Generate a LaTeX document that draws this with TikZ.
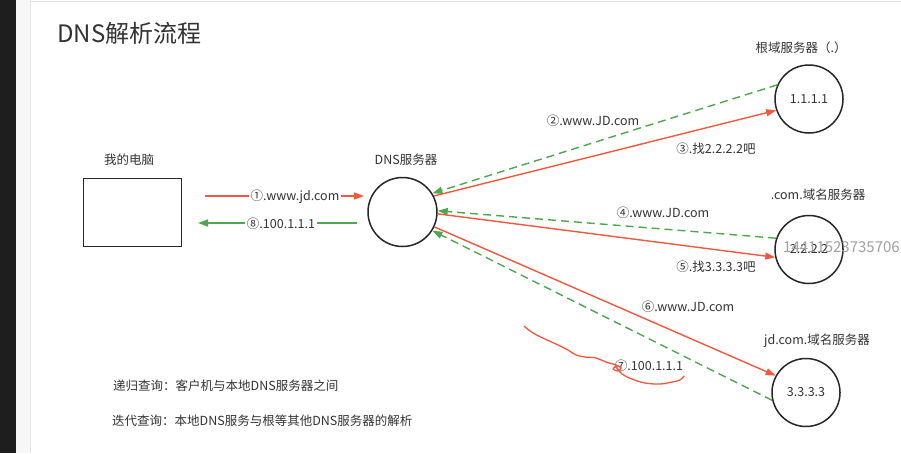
\documentclass[tikz,border=0pt]{standalone}
\usepackage{fontspec}
\setmainfont{Noto Sans CJK SC}
\usetikzlibrary{arrows.meta}
\definecolor{myred}{HTML}{F2583E}
\definecolor{mygreen}{HTML}{4DA84D}
\definecolor{txt}{HTML}{333333}
\definecolor{darkstrip}{HTML}{1E1E1E}
\definecolor{lightstrip}{HTML}{F7F7F7}
\definecolor{wmgray}{HTML}{A0A0A0}
\begin{document}
\begin{tikzpicture}[x=1pt,y=-1pt,
  srv/.style={circle, draw=black!85, line width=1.5pt, minimum size=68pt, inner sep=0pt, text=txt, font=\fontsize{12.5}{14}\selectfont},
  lbl/.style={text=txt, font=\fontsize{12.5}{14}\selectfont, inner sep=1pt},
  req/.style={myred, line width=1.4pt, -{Triangle[length=10pt,width=7pt]}},
  rsp/.style={mygreen, line width=1.4pt, -{Triangle[length=10pt,width=7pt]}},
  dsh/.style={dash pattern=on 8pt off 5pt},
  ]
% background / frame
\useasboundingbox (0,0) rectangle (901,453);
\fill[white] (0,0) rectangle (901,453);
\fill[darkstrip] (0,0) rectangle (16,453);
\fill[lightstrip] (16,0) rectangle (30,453);
\draw[black!10, line width=0.8pt] (30,0) -- (30,453);
\draw[black!12, line width=0.8pt] (30,1.5) -- (901,1.5);

% title
\node[anchor=west, text=txt, font=\fontsize{24}{28}\selectfont, inner sep=0pt] (title) at (57,33) {DNS解析流程};

% computer
\node[lbl] (pclbl) at (129,160) {我的电脑};
\node[draw=black!85, line width=1.5pt, minimum width=98pt, minimum height=68pt, inner sep=0pt] (pc) at (132.5,212.5) {};

% DNS server
\node[lbl] (dnslbl) at (406,160) {DNS服务器};
\node[srv, minimum size=69pt] (dns) at (402.5,212) {};

% servers
\node[lbl] (rootlbl) at (801,48) {根域服务器（.）};
\node[srv] (root) at (809,99) {1.1.1.1};
\node[lbl] (comlbl) at (818,195) {.com.域名服务器};
\node[srv] (com) at (809,249.5) {2.2.2.2};
\node[lbl] (jdlbl) at (817,341) {jd.com.域名服务器};
\node[srv] (jd) at (806,392.5) {3.3.3.3};

% watermark
\begin{scope}
\clip (0,0) rectangle (901,453);
\node[anchor=west, text=wmgray, font=\fontsize{15}{17}\selectfont, inner sep=0pt] (wm) at (783,247) {1441152373570613};
\end{scope}

% pc <-> dns
\coordinate (q1s) at (205,196);
\coordinate (q1e) at (364,196);
\coordinate (q8s) at (357,223);
\coordinate (q8e) at (198,223);
\draw[req] (q1s) -- (q1e);
\draw[rsp] (q8s) -- (q8e);
\node[lbl, fill=white, inner sep=2pt] (l1) at (295,197) {①.www.jd.com};
\node[lbl, fill=white, inner sep=2pt] (l8) at (281,224) {⑧.100.1.1.1};

% dns <-> root
\draw[rsp, dsh] (root.156) -- (dns.32);
\draw[req] (dns.27) -- (root.199);
\node[lbl] (l2) at (593,121) {②.www.JD.com};
\node[lbl] (l3) at (716,149) {③.找2.2.2.2吧};

% dns <-> com
\draw[rsp, dsh] (com.161) -- (dns.2);
\draw[req] (dns.-3) -- (com.193);
\node[lbl] (l4) at (663,213) {④.www.JD.com};
\node[lbl] (l5) at (716,267) {⑤.找3.3.3.3吧};

% dns <-> jd
\draw[req] (dns.-25) -- (jd.151);
\draw[rsp, dsh] (jd.193) -- (dns.-32);
\node[lbl] (l6) at (688,307) {⑥.www.JD.com};
\node[lbl] (l7) at (649,366) {⑦.100.1.1.1};

% hand-drawn annotation
\draw[myred, line width=1.3pt, line cap=round, line join=round]
  plot[smooth, tension=0.6] coordinates {(524,326) (533,333) (545,339) (558,345) (568,350) (576,355) (585,357) (596,358) (606,362) (616,365) (621,368) (618,371) (613,369) (616,366)}
  plot[smooth, tension=0.6] coordinates {(616,366) (622,374) (632,379) (645,383) (660,384) (672,382) (680,380) (684,376)};

% notes
\node[lbl, anchor=west] (n1) at (112,386) {递归查询：客户机与本地DNS服务器之间};
\node[lbl, anchor=west] (n2) at (111,421) {迭代查询：本地DNS服务与根等其他DNS服务器的解析};
\end{tikzpicture}
\end{document}
